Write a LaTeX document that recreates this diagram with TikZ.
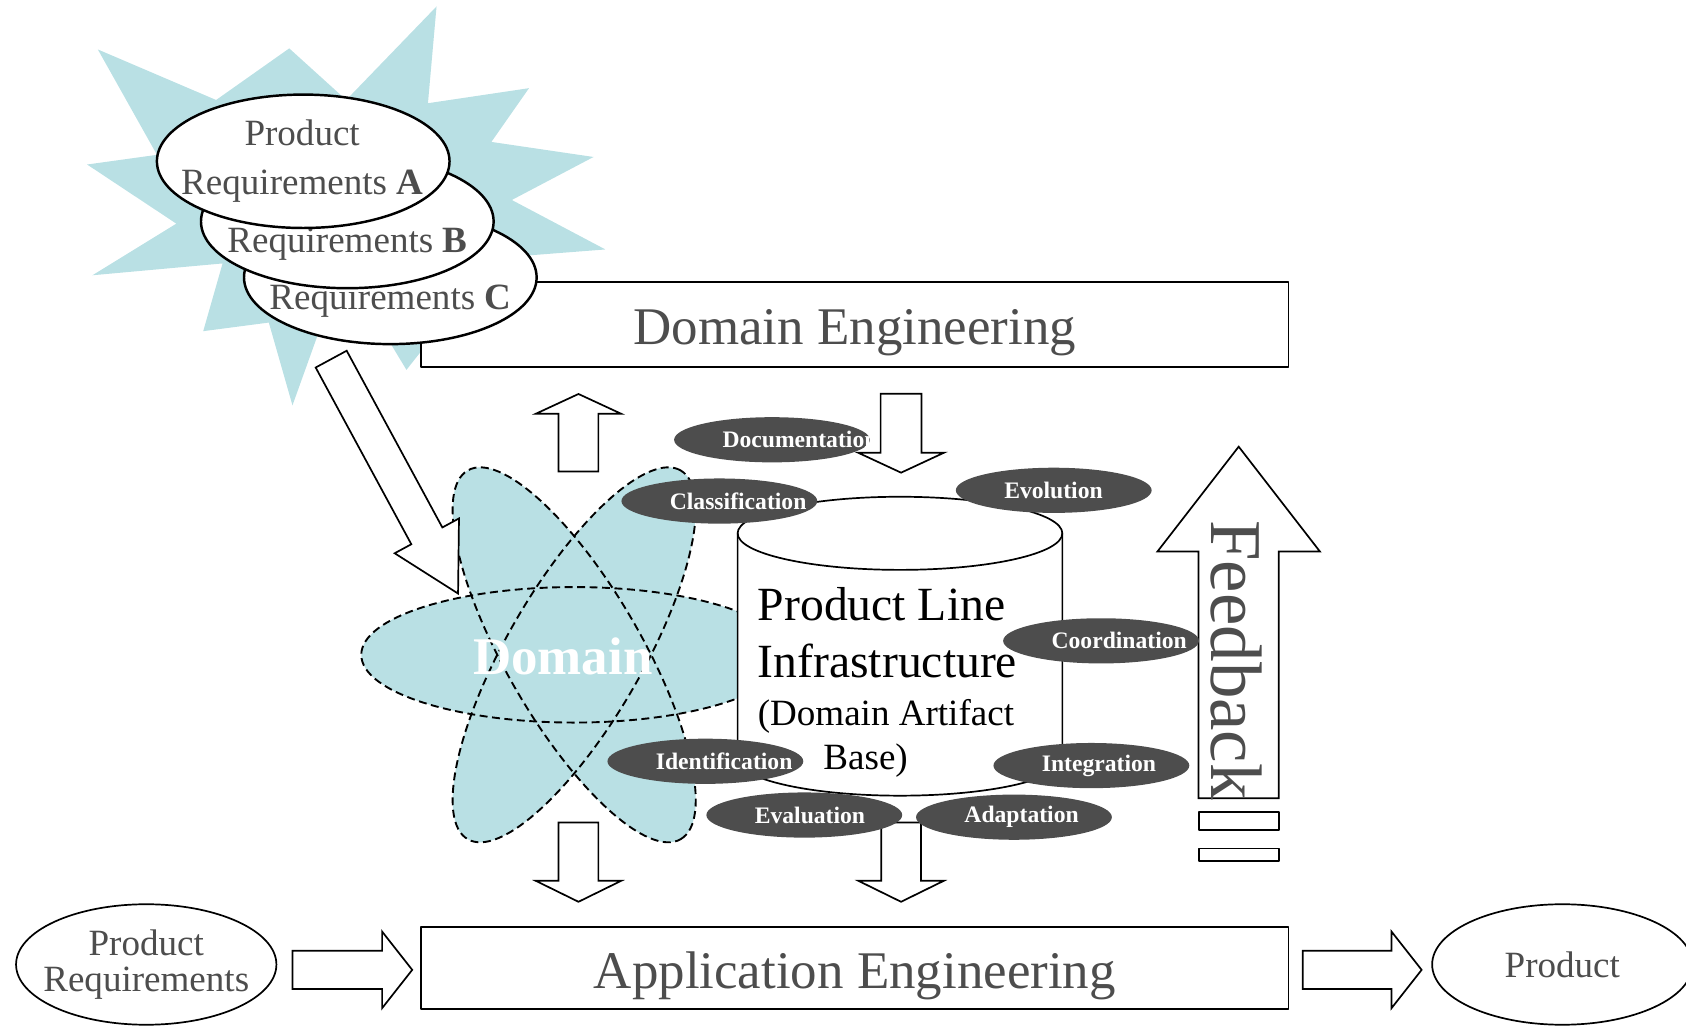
\documentclass[tikz,border=0pt]{standalone}
\usepackage{fontspec}
\setmainfont{Liberation Serif}
\usetikzlibrary{shapes.geometric,calc}
\definecolor{burst}{RGB}{185,224,228}
\definecolor{ovalgray}{RGB}{77,77,77}
\definecolor{txtgray}{RGB}{77,77,77}
\begin{document}
\begin{tikzpicture}[x=0.01cm,y=0.01cm,line join=round,line width=0.45pt,
  reqoval/.style={ellipse,draw,fill=white,line width=0.65pt,minimum width=2.72cm,minimum height=1.24cm,inner sep=0pt},
  reqtext/.style={inner sep=0pt,align=center,text=txtgray,font=\fontsize{9.8}{13.1}\selectfont},
  engbox/.style={draw,fill=white,minimum width=8.06cm,inner sep=0pt,text height=0.44cm,text depth=0.06cm,text=txtgray,font=\fontsize{14}{16}\selectfont},
  endoval/.style={ellipse,draw,fill=white,minimum width=2.42cm,minimum height=1.12cm,inner sep=0pt},
  endtext/.style={inner sep=0pt,align=center,text=txtgray,font=\fontsize{9.8}{9.7}\selectfont},
  task/.style={ellipse,fill=ovalgray,minimum width=1.82cm,minimum height=0.42cm,inner sep=0pt},
  tasktext/.style={anchor=west,inner sep=0pt,text=white,font=\bfseries\fontsize{6.25}{7.5}\selectfont},
  pltext/.style={anchor=base west,inner sep=0pt,font=\fontsize{12.6}{15}\selectfont},
  arttext/.style={anchor=base west,inner sep=0pt,font=\fontsize{9.8}{12}\selectfont},
  petal/.style={dash pattern=on 2.1pt off 1.2pt,line width=0.5pt},
  blockarr/.style n args={3}{draw,fill=white,line join=miter,
    to path={let \p1=(\tikztostart),\p2=(\tikztotarget),\n1={atan2(\y2-\y1,\x2-\x1)} in
      ($(\p1)+(\n1+90:#1)$) -- ($(\p2)+(\n1+180:#3)+(\n1+90:#1)$) -- ($(\p2)+(\n1+180:#3)+(\n1+90:#2)$)
      -- (\p2) -- ($(\p2)+(\n1+180:#3)+(\n1-90:#2)$) -- ($(\p2)+(\n1+180:#3)+(\n1-90:#1)$)
      -- ($(\p1)+(\n1-90:#1)$) -- cycle}}]
\useasboundingbox (0,0) rectangle (1568,954);

\fill[burst] (406,948) -- (398,858) -- (492,872) -- (457,822) -- (552,808) -- (476,768) -- (563,722)
  -- (460,714) -- (378,610) -- (319,708) -- (272,577) -- (250,654) -- (189,646) -- (207,709)
  -- (86,698) -- (164,746) -- (81,801) -- (146,810) -- (91,908) -- (201,861) -- (269,909)
  -- (322,861) -- cycle;

\node[engbox,minimum height=0.79cm] (deng) at (795,652.5) {Domain Engineering};
\node[engbox,minimum height=0.765cm] (appeng) at (795,53.75) {Application Engineering};
\node[endoval] (prodreq) at (136,57) {};
\node[endtext] (prodreqtxt) at (prodreq) {Product\\Requirements};
\node[endoval] (product) at (1453,57) {};
\node[endtext] (producttxt) at (product) {Product};

\node[reqoval] (reqC) at (363,696) {};
\node[reqtext] (reqCtxt) at ($(reqC)+(0,-22)$) {Requirements \textbf{C}};
\node[reqoval] (reqB) at (323,748) {};
\node[reqtext] (reqBtxt) at ($(reqB)+(0,-21)$) {Requirements \textbf{B}};
\node[reqoval] (reqA) at (282,804) {};
\node[reqtext] (reqAtxt) at ($(reqA)+(-1,0)$) {Product\\Requirements \textbf{A}};

\foreach \a in {0,60,-60}
  \fill[burst,rotate around={\a:(534,345)}] (534,345) ellipse [x radius=198,y radius=63];
\foreach \a in {0,60,-60}
  \draw[petal,rotate around={\a:(534,345)}] (534,345) ellipse [x radius=198,y radius=63];
\node[text=white,font=\bfseries\fontsize{14}{16}\selectfont] (domain) at (523.5,343.5) {Domain};

\draw[fill=white] (686,458) -- (686,248) arc[start angle=180,end angle=360,x radius=151,y radius=34]
  -- (988,458) arc[start angle=0,end angle=180,x radius=151,y radius=34] -- cycle;
\draw (686,458) arc[start angle=180,end angle=360,x radius=151,y radius=34];
\node[pltext] (plline) at (704,377) {Product Line};
\node[pltext] (plinfra) at (704,324) {Infrastructure};
\node[arttext] (plart) at (704,279) {(Domain Artifact};
\node[arttext] (plbase) at (765,238) {Base)};

\node[task] (doc) at (718,545) {};
\node[tasktext] at ([xshift=0.45cm]doc.west) {Documentation};

\coordinate (reqfoot) at (308,620);
\coordinate (domhead) at (426,402);
\draw[blockarr={16.4}{34}{61}] (reqfoot) to (domhead);
\coordinate (upfoot) at (538,515.4);
\draw[blockarr={18.5}{39.7}{18.4}] (upfoot) to ($(upfoot |- deng.south)+(0,-24.6)$);
\coordinate (docfoot) at (838,514.4);
\draw[blockarr={19}{40}{18.6}] ($(docfoot |- deng.south)+(0,-24.4)$) to (docfoot);
\coordinate (domfoot) at (538,189);
\draw[blockarr={18.5}{39.7}{19.5}] (domfoot) to ($(domfoot |- appeng.north)+(0,22.5)$);
\coordinate (plfoot) at (838,189);
\draw[blockarr={18.5}{39.7}{19.5}] (plfoot) to ($(plfoot |- appeng.north)+(0,22.5)$);
\coordinate (reqin) at (272,52);
\draw[blockarr={17.7}{35.6}{28}] (reqin) to ($(reqin -| appeng.west)+(-7.6,0)$);
\coordinate (prodout) at (1211.5,52);
\draw[blockarr={17.7}{35.6}{28}] (prodout) to ($(prodout -| product.west)+(-9,0)$);
\coordinate (fbfoot) at (1152,211.6);
\coordinate (fbtip) at (1152,538.6);
\draw[blockarr={37.3}{75.6}{97.6}] (fbfoot) to (fbtip);
\draw (1115,182) rectangle (1189.7,199);
\draw (1115,153) rectangle (1189.7,165);

\foreach \nm/\px/\py/\txt in {cls/669/488/Classification,evo/980/498/Evolution,coo/1024/358/Coordination,
    idn/656/246/Identification,itg/1015/242/Integration,eva/748/196/Evaluation,ada/943/194/Adaptation}{
  \node[task] (\nm) at (\px,\py) {};
  \node[tasktext] at ([xshift=0.45cm]\nm.west) {\txt};
}

\node[rotate=-90,anchor=base west,inner sep=0pt,text=txtgray,font=\fontsize{19.3}{22}\selectfont] (feedback) at (1127,471) {Feedback};
\end{tikzpicture}
\end{document}
